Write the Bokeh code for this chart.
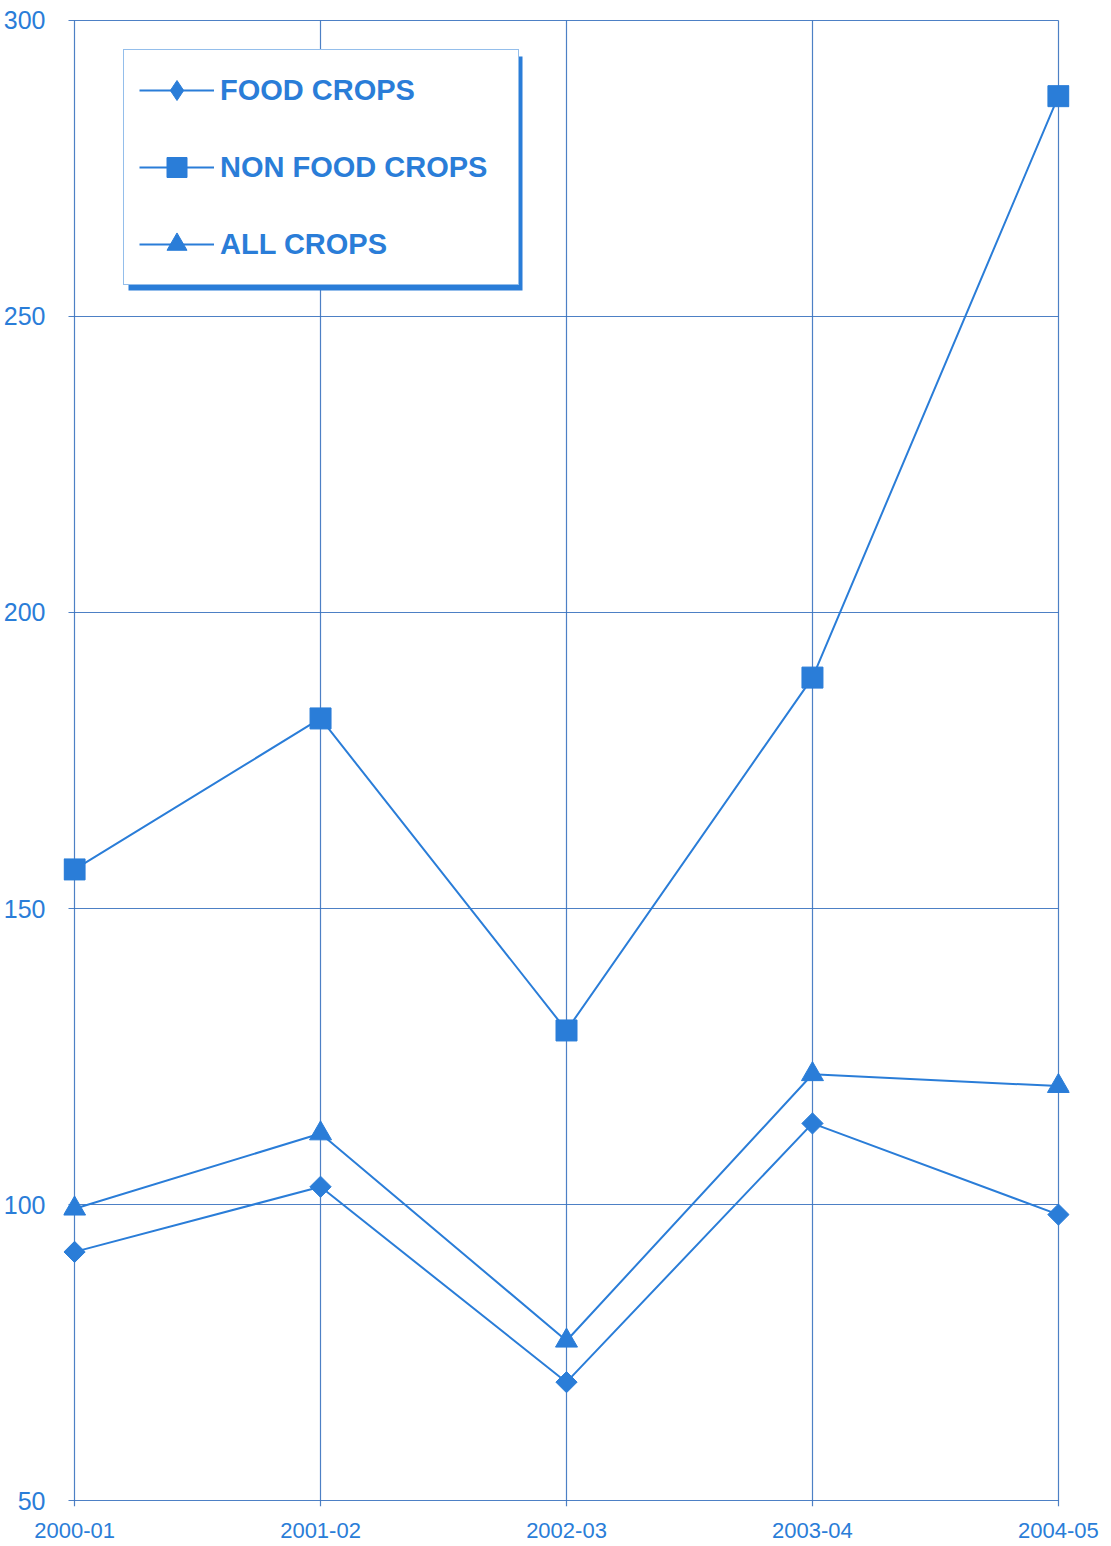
import numpy as np
from bokeh.plotting import figure
from bokeh.models import FixedTicker, Legend, LegendItem, BoxAnnotation, Range1d
from bokeh.embed import file_html
from bokeh.resources import INLINE

years = ["2000-01", "2001-02", "2002-03", "2003-04", "2004-05"]
food_crops = [92, 103, 70, 113.7, 98.3]
non_food_crops = [156.6, 182.1, 129.4, 189, 287.2]
all_crops = [99.3, 112, 77, 122, 120]
y_ticks = [50, 100, 150, 200, 250, 300]

BLUE = "#2a7dd8"
GRID = "#3a72bf"
FONT = "Liberation Sans"

xs = list(range(len(years)))

p = figure(frame_width=1006, frame_height=1495, output_backend="svg", toolbar_location=None,
           x_range=Range1d(-0.045, len(years) - 1 + 0.045), y_range=Range1d(49, 301.5),
           min_border_left=62, min_border_right=40, min_border_top=11, min_border_bottom=36)
p.outline_line_color = None
p.background_fill_color = "white"
p.border_fill_color = "white"

p.xaxis.ticker = FixedTicker(ticks=xs)
p.xaxis.major_label_overrides = {i: y for i, y in enumerate(years)}
p.yaxis.ticker = FixedTicker(ticks=y_ticks)
for ax in (p.xaxis[0], p.yaxis[0]):
    ax.axis_line_color = None
    ax.major_tick_line_color = None
    ax.minor_tick_line_color = None
    ax.major_label_text_color = BLUE
    ax.major_label_text_font = FONT
p.xaxis.major_label_text_font_size = "22px"
p.yaxis.major_label_text_font_size = "25px"
p.xaxis.major_label_standoff = 10
p.yaxis.major_label_standoff = 12

p.xgrid.ticker = FixedTicker(ticks=xs)
p.ygrid.ticker = FixedTicker(ticks=y_ticks)
p.xgrid.cross_bounds = (y_ticks[0] - 1, y_ticks[-1])
p.ygrid.cross_bounds = (xs[0] - 0.025, xs[-1])
for g in (p.xgrid[0], p.ygrid[0]):
    g.grid_line_color = GRID
    g.grid_line_width = 1.2
    g.grid_line_alpha = 0.9

# legend shadow (frame-relative screen units, y upwards)
shadow = BoxAnnotation(left=65, right=459, bottom=1216, top=1450,
                       left_units="screen", right_units="screen",
                       top_units="screen", bottom_units="screen",
                       fill_color=BLUE, fill_alpha=1.0, line_color=None)
p.add_layout(shadow)

items = []
series = [("FOOD CROPS", food_crops, "square", 15, np.pi / 4, "diamond"),
          ("NON FOOD CROPS", non_food_crops, "square", 21, 0, "square"),
          ("ALL CROPS", all_crops, "triangle", 22, 0, "triangle")]
for name, vals, marker, size, ang, leg_marker in series:
    l = p.line(xs, vals, line_color=BLUE, line_width=2)
    s = p.scatter(xs, vals, marker=marker, size=size, angle=ang,
                  fill_color=BLUE, line_color=BLUE)
    # marker shown in the legend (no data drawn)
    d = p.scatter([np.nan], [np.nan], marker=leg_marker, size=size,
                  fill_color=BLUE, line_color=BLUE)
    items.append(LegendItem(label=name, renderers=[l, d]))

legend = Legend(items=items, location=(60, 1221), padding=15, spacing=27,
                glyph_width=75, glyph_height=50, label_height=50, label_standoff=6,
                label_width=283,
                label_text_font=FONT, label_text_font_style="bold",
                label_text_font_size="29px", label_text_color=BLUE,
                border_line_color=BLUE, border_line_width=1.5,
                background_fill_color="white", background_fill_alpha=1.0)
p.add_layout(legend)

open("out.html", "w").write(file_html(p, INLINE))
